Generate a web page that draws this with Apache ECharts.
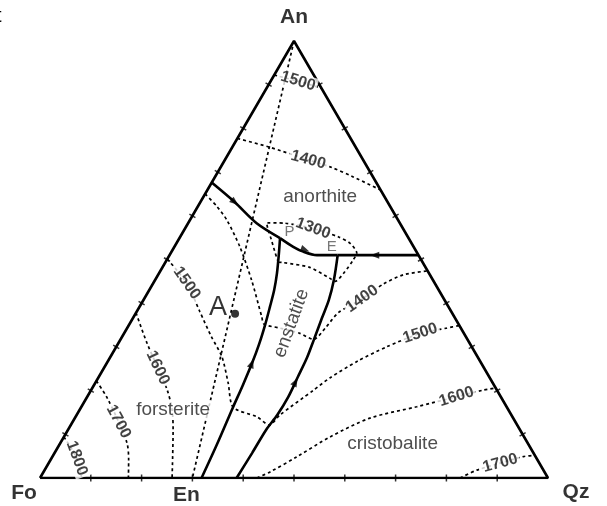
<!DOCTYPE html>
<html>
<head>
<meta charset="utf-8">
<script src="https://cdn.jsdelivr.net/npm/echarts@6/dist/echarts.min.js"></script>
<style>
  html, body { margin: 0; padding: 0; background: #fff; }
  #chart { width: 607px; height: 506px; }
</style>
</head>
<body>
<div id="chart"></div>
<script>
// every point is a composition [Qz %, An %]  (Fo = 100 - Qz - An)
const corners = [[0, 0], [100, 0], [0, 100]]
const cornerNames = ['Fo', 'Qz', 'An']
const enPoint = [30, 0]
const anEnJoin = [[0, 100], [30, 0]]

// field boundaries (solid)
const bFoAn = [[0, 67.6], [6.8, 63.1], [13.5, 58.3], [19.8, 54.9]]
const bPE = [[19.8, 54.9], [23.4, 52.9], [25.9, 51.8], [29.0, 51.0], [31.0, 51.0], [33.1, 51.0]]
const bECr = [[33.1, 51.0], [49.0, 51.0]]
const bFoEn = [[31.8, 0], [31.0, 7.6], [29.9, 16.2], [29.3, 21.3], [28.6, 26.3], [27.8, 30.7], [26.8, 35.0],
  [25.7, 39.1], [24.6, 43.0], [23.2, 46.9], [21.5, 51.0], [19.8, 54.9]]
const bEnCr = [[38.7, 0], [38.9, 5.7], [39.0, 11.0], [39.5, 14.4], [39.6, 18.5], [39.2, 23.1], [38.8, 27.5],
  [38.1, 31.6], [37.2, 36.6], [36.5, 40.7], [35.2, 45.3], [33.1, 51.0]]

// isotherms (dashed)
const iso1500an = [[0, 92.2], [5.4, 90.8], [10.8, 89.2]]
const iso1400an = [[0, 77.7], [7.0, 75.8], [16.4, 72.8], [21.5, 71.2], [27.2, 68.9], [34.1, 65.9]]
const iso1300 = [[22.2, 49.4], [20.4, 51.7], [18.3, 54.5], [16.5, 56.8], [15.4, 58.4], [19.1, 58.3], [25.2, 57.1],
  [31.1, 55.2], [34.2, 53.7], [36.6, 51.5], [36.7, 49.9], [36.4, 47.2], [35.6, 45.0], [34.2, 45.7],
  [29.0, 48.2], [23.2, 49.3], [22.2, 49.4]]
const iso1400 = [[0, 65.0], [3.7, 62.2], [7.3, 59.0], [12.9, 52.9], [19.0, 45.3], [25.2, 36.9], [26.5, 35.2],
  [30.1, 34.3], [34.6, 33.1], [38.0, 31.7], [39.0, 34.3], [39.8, 37.8], [42.9, 41.0], [45.4, 44.4],
  [48.3, 46.5], [52.6, 47.4]]
const iso1500 = [[0, 50.1], [6.6, 44.6], [12.4, 38.1], [17.6, 32.3], [21.9, 27.8], [26.2, 21.7], [29.9, 16.2],
  [35.7, 14.0], [39.1, 12.1], [40.0, 14.4], [43.8, 20.1], [45.6, 22.9], [49.2, 26.8], [53.2, 30.0],
  [58.3, 33.1], [62.9, 34.3], [65.1, 34.9]]
const iso1600fo = [[0, 37.8], [5.6, 30.9], [10.6, 25.2], [15.0, 20.1], [18.2, 15.6], [20.7, 11.0], [26.0, 0]]
const iso1600cr = [[42.7, 0], [44.6, 1.4], [48.1, 4.8], [52.4, 9.4], [58.1, 13.7], [66.0, 16.3], [72.7, 18.6],
  [77.2, 20.1], [79.4, 20.6]]
const iso1700fo = [[0, 22.2], [3.8, 18.6], [9.0, 12.9], [13.2, 7.9], [15.4, 4.1], [17.4, 0]]
const iso1700cr = [[82.7, 0], [85.1, 1.8], [88.9, 3.4], [92.7, 4.9], [94.8, 5.2]]
const iso1800 = [[0, 9.4], [5.0, 4.5], [8.2, 0]]

// text
const tempLabels = [
  [1500, 5.4, 90.8], [1400, 16.4, 72.8], [1300, 25.2, 57.1],
  [1500, 6.6, 44.6], [1600, 10.6, 25.2], [1700, 9.0, 12.9], [1800, 5.0, 4.5],
  [1400, 42.9, 41.0], [1500, 58.3, 33.1], [1600, 72.7, 18.6], [1700, 88.9, 3.4]
]
const tempAngles = [-17, -15, -20, -55, -65, -62, -70, 35, 18, 17, 15]
const fieldNames = ['anorthite', 'forsterite', 'enstatite', 'cristobalite']
const fieldSpots = [[23.0, 64.3], [18.4, 15.6], [31.8, 35.4], [65.5, 7.8]]
const fieldAngles = [0, 0, 70, 0]
const pointA = [19.6, 37.6]
const invariantNames = ['P', 'E']
const invariantSpots = [[20.9, 56.4], [31.0, 52.9]]
const tickSteps = [10, 20, 30, 40, 50, 60, 70, 80, 90]
const arrowSpots = [[6.8, 63.1], [26.1, 52.2], [40.4, 51.0], [28.6, 26.2], [39.3, 22.0]]
const arrowAngles = [-129.5, -110, 90, -21, -28]

const H = 100 * Math.sqrt(3) / 2
const P = ([q, a]) => [q + a / 2, a * Math.sqrt(3) / 2]
const FONT = '"Liberation Sans", Arial, sans-serif'

const solid = { color: '#000', width: 2.6 }
const dashed = { color: '#000', width: 1.7, type: [3, 3] }

function curve (pts, style, smooth, z) {
  return {
    type: 'line',
    data: pts.map(P),
    symbol: 'none',
    smooth: smooth || 0,
    lineStyle: style,
    silent: true,
    z: z || 2
  }
}

function ticks (pts, rot) {
  return {
    type: 'scatter',
    data: pts.map(P),
    symbol: 'rect',
    symbolSize: [1.5, 7],
    symbolRotate: rot,
    itemStyle: { color: '#000' },
    silent: true,
    z: 4
  }
}

const chart = echarts.init(document.getElementById('chart'))
chart.setOption({
  animation: false,
  backgroundColor: '#fff',
  grid: { left: 40, top: 41, width: 508, height: 437 },
  xAxis: { type: 'value', min: 0, max: 100, show: false },
  yAxis: { type: 'value', min: 0, max: H, show: false },
  graphic: [{
    type: 'text', left: -4, top: 6,
    style: { text: 't', font: '20px ' + FONT, fill: '#000' }
  }],
  series: [
    // isotherms
    curve(iso1500an, dashed, 0.3),
    curve(iso1400an, dashed, 0.3),
    curve(iso1300, dashed, 0.25),
    curve(iso1400, dashed, 0.25),
    curve(iso1500, dashed, 0.25),
    curve(iso1600fo, dashed, 0.3),
    curve(iso1600cr, dashed, 0.3),
    curve(iso1700fo, dashed, 0.3),
    curve(iso1700cr, dashed, 0.3),
    curve(iso1800, dashed, 0.3),
    curve(anEnJoin, dashed),
    // boundaries and outline
    curve(bFoAn, solid, 0.3, 3),
    curve(bPE, solid, 0.3, 3),
    curve(bECr, solid, 0, 3),
    curve(bFoEn, solid, 0.3, 3),
    curve(bEnCr, solid, 0.3, 3),
    curve(corners.concat([corners[0]]), solid, 0, 3),
    // edge ticks
    ticks(tickSteps.map(t => [t, 0]), 0),
    ticks(tickSteps.map(t => [0, t]), 60),
    ticks(tickSteps.map(t => [100 - t, t]), -60),
    // arrows
    {
      type: 'scatter',
      data: arrowSpots.map((s, i) => ({ value: P(s), symbolRotate: arrowAngles[i] })),
      symbol: 'triangle',
      symbolSize: [7, 9],
      itemStyle: { color: '#000' },
      silent: true,
      z: 5
    },
    // point A
    {
      type: 'scatter',
      data: [P(pointA)],
      symbolSize: 8,
      itemStyle: { color: '#000' },
      label: {
        show: true, position: 'left', distance: 4, offset: [0, -6],
        formatter: 'A', fontFamily: FONT, fontSize: 27, color: '#000'
      },
      silent: true,
      z: 6
    },
    // corner names
    {
      type: 'scatter',
      data: corners.map((c, i) => ({
        value: P(c),
        label: { offset: [[-16, 15], [28, 14], [0, -24]][i] }
      })).concat([{ value: P(enPoint), label: { offset: [-6, 17] } }]),
      symbolSize: 0,
      label: {
        show: true, position: 'inside',
        formatter: p => p.dataIndex < 3 ? cornerNames[p.dataIndex] : 'En',
        fontFamily: FONT, fontSize: 21, fontWeight: 'bold', color: '#000'
      },
      silent: true,
      z: 6
    },
    // temperature labels
    {
      type: 'scatter',
      data: tempLabels.map((t, i) => ({ value: P([t[1], t[2]]), label: { rotate: tempAngles[i] } })),
      symbolSize: 0,
      label: {
        show: true, position: 'inside',
        formatter: p => String(tempLabels[p.dataIndex][0]),
        fontFamily: FONT, fontSize: 16, fontWeight: 'bold', color: '#111',
        backgroundColor: '#fff', padding: [0, 2]
      },
      silent: true,
      z: 7
    },
    // field names
    {
      type: 'scatter',
      data: fieldSpots.map((s, i) => ({ value: P(s), label: { rotate: fieldAngles[i] } })),
      symbolSize: 0,
      label: {
        show: true, position: 'inside',
        formatter: p => fieldNames[p.dataIndex],
        fontFamily: FONT, fontSize: 19, color: '#222',
        backgroundColor: '#fff', padding: [0, 1]
      },
      silent: true,
      z: 7
    },
    // invariant points
    {
      type: 'scatter',
      data: invariantSpots.map(P),
      symbolSize: 0,
      label: {
        show: true, position: 'inside',
        formatter: p => invariantNames[p.dataIndex],
        fontFamily: FONT, fontSize: 15, color: '#555'
      },
      silent: true,
      z: 7
    }
  ]
})
</script>
</body>
</html>
